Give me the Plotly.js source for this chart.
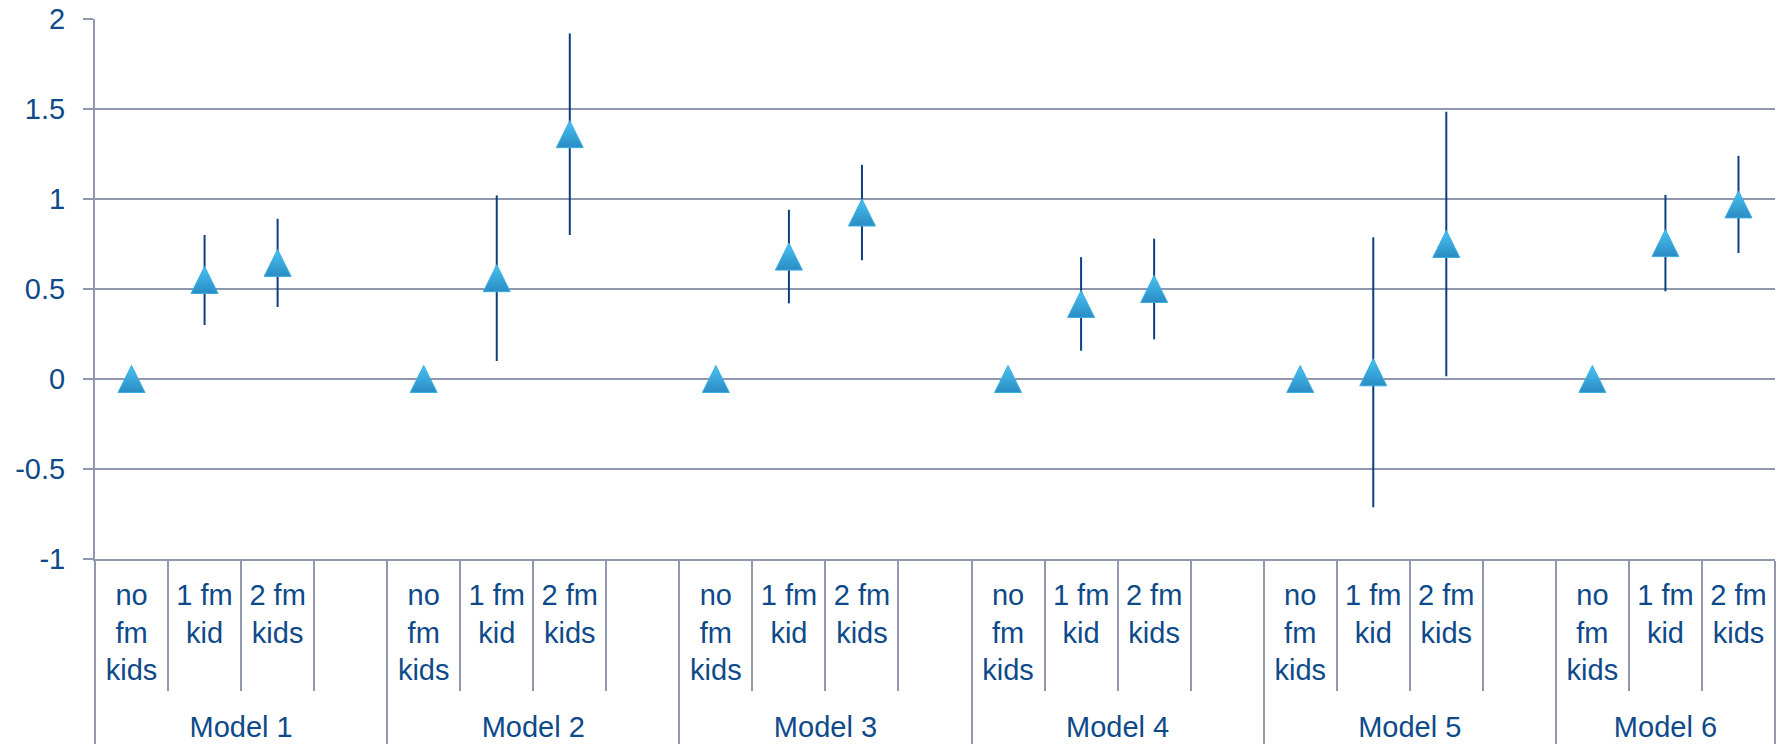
<!DOCTYPE html>
<html>
<head>
<meta charset="utf-8">
<script src="https://cdn.plot.ly/plotly-3.0.1.min.js"></script>
<style>
  html, body { margin: 0; padding: 0; background: #ffffff; }
  #chart { width: 1785px; height: 745px; }
</style>
</head>
<body>
<div id="chart"></div>
<script>
// ---- data ----
const modelLabels = ['Model 1', 'Model 2', 'Model 3', 'Model 4', 'Model 5', 'Model 6'];
const kidLabels = ['no<br>fm<br>kids', '1 fm<br>kid', '2 fm<br>kids'];
const spacerLabel = ' ';

const model1Values = [0, 0.55, 0.645];
const model2Values = [0, 0.56, 1.36];
const model3Values = [0, 0.68, 0.925];
const model4Values = [0, 0.417, 0.50];
const model5Values = [0, 0.037, 0.75];
const model6Values = [0, 0.755, 0.97];

const model1Errors = [0, 0.25, 0.245];
const model2Errors = [0, 0.46, 0.56];
const model3Errors = [0, 0.26, 0.265];
const model4Errors = [0, 0.26, 0.28];
const model5Errors = [0, 0.75, 0.735];
const model6Errors = [0, 0.268, 0.27];

const yTickVals = [-1, -0.5, 0, 0.5, 1, 1.5, 2];
const yTickText = ['-1', '-0.5', '0', '0.5', '1', '1.5', '2'];

// ---- build the category table ----
const allValues = [model1Values, model2Values, model3Values, model4Values, model5Values, model6Values];
const allErrors = [model1Errors, model2Errors, model3Errors, model4Errors, model5Errors, model6Errors];

// a short blank line under the first-level labels pushes the model labels lower
const padLine = '<br><sup><span style="font-size:58px">\u00a0</span></sup>';

const xGroup = [], xSub = [], yVals = [], yErr = [];
modelLabels.forEach((m, gi) => {
  kidLabels.forEach((k, ki) => {
    xGroup.push(m); xSub.push(k + (ki === 0 ? padLine : ''));
    yVals.push(allValues[gi][ki]);
    yErr.push(allErrors[gi][ki]);
  });
  if (gi < modelLabels.length - 1) {
    xGroup.push(m); xSub.push(spacerLabel);
    yVals.push(null); yErr.push(null);
  }
});
const nSlots = xSub.length;

const textColor = '#0E4A8A';
const lineColor = '#8F98AC';
const fontFam = 'Liberation Sans, Arial, sans-serif';

const trace = {
  type: 'scatter',
  mode: 'markers',
  x: [xGroup, xSub],
  y: yVals,
  error_y: { type: 'data', array: yErr, visible: true, color: '#0D3F7F', thickness: 2, width: 0 },
  marker: {
    symbol: 'arrow-down',
    angle: 180,
    standoff: 13.5,
    size: 27,
    color: '#48C2F2',
    gradient: { type: 'vertical', color: '#2A8CC4' },
    line: { color: '#3AAEE3', width: 1 }
  },
  cliponaxis: false,
  hoverinfo: 'y',
  showlegend: false
};

const layout = {
  width: 1785, height: 745,
  margin: { l: 95, r: 10, t: 19, b: 186 },
  paper_bgcolor: '#ffffff',
  plot_bgcolor: '#ffffff',
  font: { family: fontFam, size: 29, color: textColor },
  showlegend: false,
  xaxis: {
    type: 'multicategory',
    range: [-0.5, nSlots - 0.5],
    autorange: false,
    showdividers: true,
    dividercolor: lineColor,
    dividerwidth: 2,
    ticks: 'outside',
    tickson: 'boundaries',
    ticklen: 130,
    tickwidth: 2,
    tickcolor: lineColor,
    showline: true,
    linecolor: lineColor,
    linewidth: 2,
    showgrid: false,
    zeroline: false,
    ticklabelstandoff: 9,
    tickfont: { family: fontFam, size: 29, color: textColor }
  },
  yaxis: {
    range: [-1, 2],
    autorange: false,
    tickvals: yTickVals,
    ticktext: yTickText,
    showgrid: true,
    gridcolor: lineColor,
    gridwidth: 2,
    zeroline: false,
    showline: true,
    linecolor: lineColor,
    linewidth: 2,
    ticks: 'outside',
    ticklen: 10,
    tickwidth: 2,
    tickcolor: lineColor,
    ticklabelstandoff: 12,
    tickfont: { family: fontFam, size: 29, color: textColor }
  }
};

Plotly.newPlot('chart', [trace], layout, { displayModeBar: false, staticPlot: true });
</script>
</body>
</html>
